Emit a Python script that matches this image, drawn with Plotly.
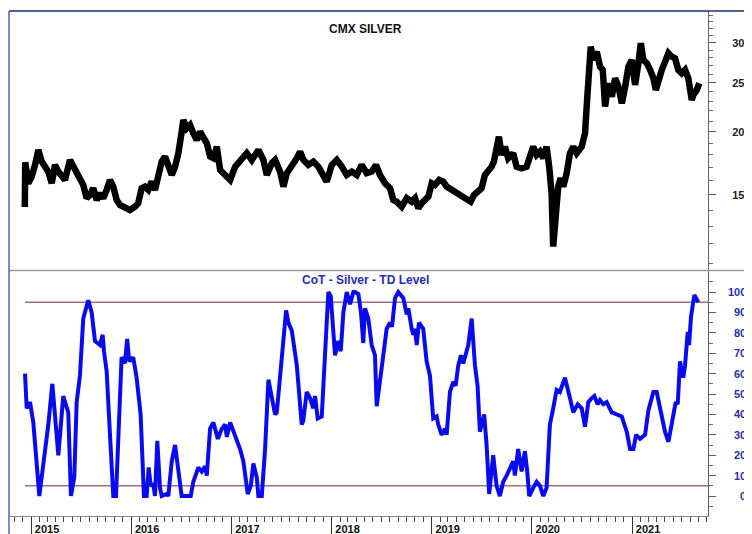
import math
from datetime import datetime
import plotly.graph_objects as go

# ---------------- data ----------------
# decimal-year positions and CMX silver price (USD/oz)
price_t = [2014.938, 2014.942, 2014.973, 2015.007, 2015.040, 2015.073, 2015.107, 2015.140, 2015.173,
           2015.207, 2015.240, 2015.273, 2015.306, 2015.339, 2015.389, 2015.422, 2015.456, 2015.489,
           2015.522, 2015.556, 2015.589, 2015.622, 2015.656, 2015.689, 2015.722, 2015.756, 2015.789,
           2015.822, 2015.856, 2015.888, 2015.938, 2015.988, 2016.038, 2016.071, 2016.105, 2016.138,
           2016.171, 2016.205, 2016.238, 2016.271, 2016.305, 2016.338, 2016.371, 2016.405, 2016.438,
           2016.471, 2016.504, 2016.520, 2016.554, 2016.587, 2016.620, 2016.654, 2016.687, 2016.720,
           2016.754, 2016.787, 2016.820, 2016.854, 2016.887, 2016.937, 2016.987, 2017.037, 2017.086,
           2017.153, 2017.203, 2017.236, 2017.269, 2017.319, 2017.353, 2017.403, 2017.436, 2017.486,
           2017.519, 2017.553, 2017.603, 2017.653, 2017.686, 2017.719, 2017.768, 2017.818, 2017.868,
           2017.918, 2017.952, 2018.002, 2018.052, 2018.102, 2018.152, 2018.202, 2018.252, 2018.301,
           2018.351, 2018.401, 2018.444, 2018.484, 2018.534, 2018.584, 2018.617, 2018.651, 2018.701,
           2018.751, 2018.801, 2018.834, 2018.867, 2018.901, 2018.934, 2018.967, 2019.001, 2019.033,
           2019.076, 2019.116, 2019.150, 2019.200, 2019.250, 2019.300, 2019.350, 2019.390, 2019.423,
           2019.465, 2019.499, 2019.532, 2019.565, 2019.599, 2019.622, 2019.649, 2019.672, 2019.699,
           2019.732, 2019.765, 2019.815, 2019.849, 2019.899, 2019.949, 2019.982, 2020.015, 2020.049,
           2020.082, 2020.115, 2020.148, 2020.174, 2020.198, 2020.214, 2020.241, 2020.264, 2020.288,
           2020.314, 2020.348, 2020.381, 2020.414, 2020.448, 2020.498, 2020.531, 2020.554, 2020.574,
           2020.588, 2020.614, 2020.648, 2020.681, 2020.708, 2020.731, 2020.764, 2020.798, 2020.831,
           2020.864, 2020.898, 2020.931, 2020.963, 2020.997, 2021.030, 2021.063, 2021.087, 2021.113,
           2021.147, 2021.180, 2021.213, 2021.237, 2021.263, 2021.297, 2021.330, 2021.363, 2021.396,
           2021.429, 2021.462, 2021.496, 2021.529, 2021.562, 2021.596, 2021.612, 2021.646, 2021.672]
price_v = [14.2, 17.4, 15.82, 16.30, 17.20, 18.41, 17.46, 16.94, 16.68,
           15.82, 17.20, 16.68, 16.43, 16.06, 17.59, 17.06, 16.43, 16.06,
           15.70, 14.78, 15.00, 15.47, 14.66, 15.12, 14.78, 15.35, 16.06,
           15.58, 14.66, 14.33, 14.12, 14.01, 14.22, 14.45, 15.47, 15.58,
           15.35, 15.94, 15.35, 16.30, 17.46, 17.86, 17.06, 16.43, 17.06,
           18.14, 20.01, 21.10, 20.32, 20.63, 19.87, 19.27, 20.01, 19.56,
           18.98, 17.86, 17.73, 18.69, 16.81, 16.43, 16.06, 17.06, 17.59,
           18.14, 17.59, 18.14, 18.41, 17.59, 16.43, 17.33, 17.59, 16.68,
           15.58, 16.56, 17.06, 17.73, 18.27, 17.59, 17.20, 17.46, 17.06,
           16.43, 15.94, 17.20, 17.59, 17.06, 16.43, 16.68, 16.43, 17.20,
           16.56, 16.68, 17.20, 16.43, 15.82, 15.47, 14.66, 14.55, 14.22,
           14.78, 14.55, 14.78, 14.12, 14.45, 14.66, 14.89, 15.82, 15.70,
           16.06, 15.94, 15.58, 15.35, 15.23, 15.00, 14.78, 14.55, 15.00,
           15.35, 15.47, 16.43, 16.68, 17.06, 17.46, 18.55, 19.56, 18.00,
           18.69, 17.73, 18.14, 17.06, 16.94, 17.06, 18.00, 18.69, 18.00,
           18.27, 17.73, 18.69, 17.06, 15.12, 11.86, 14.45, 15.58, 16.19,
           15.58, 16.56, 18.14, 18.69, 18.14, 18.69, 19.87, 23.47, 25.70,
           29.46, 27.73, 28.80, 26.89, 26.50, 22.42, 24.94, 23.47, 25.51,
           24.56, 22.77, 24.56, 26.89, 27.73, 24.75, 27.31, 29.92, 27.73,
           27.31, 26.50, 25.51, 24.19, 25.32, 26.50, 27.52, 28.59, 28.15,
           27.95, 26.50, 26.10, 26.50, 25.51, 23.11, 23.65, 24.19, 24.94]

# decimal-year positions and CoT "TD Level" (0-100)
cot_t = [2014.940, 2014.957, 2014.990, 2015.023, 2015.083, 2015.123, 2015.173, 2015.213, 2015.273,
         2015.322, 2015.372, 2015.399, 2015.432, 2015.456, 2015.489, 2015.522, 2015.572, 2015.606,
         2015.639, 2015.689, 2015.716, 2015.729, 2015.756, 2015.789, 2015.822, 2015.849, 2015.881,
         2015.905, 2015.938, 2015.961, 2015.981, 2016.021, 2016.055, 2016.095, 2016.128, 2016.155,
         2016.175, 2016.195, 2016.221, 2016.238, 2016.261, 2016.288, 2016.305, 2016.355, 2016.371,
         2016.405, 2016.438, 2016.471, 2016.504, 2016.594, 2016.620, 2016.670, 2016.704, 2016.737,
         2016.754, 2016.787, 2016.820, 2016.864, 2016.904, 2016.937, 2016.954, 2016.987, 2017.037,
         2017.086, 2017.119, 2017.163, 2017.193, 2017.219, 2017.253, 2017.269, 2017.303, 2017.336,
         2017.369, 2017.403, 2017.436, 2017.453, 2017.486, 2017.519, 2017.546, 2017.569, 2017.603,
         2017.653, 2017.702, 2017.718, 2017.752, 2017.785, 2017.818, 2017.835, 2017.862, 2017.902,
         2017.935, 2017.968, 2017.992, 2018.018, 2018.035, 2018.068, 2018.092, 2018.118, 2018.152,
         2018.185, 2018.218, 2018.235, 2018.268, 2018.294, 2018.317, 2018.334, 2018.367, 2018.401,
         2018.434, 2018.451, 2018.484, 2018.517, 2018.551, 2018.584, 2018.604, 2018.634, 2018.667,
         2018.717, 2018.751, 2018.767, 2018.801, 2018.817, 2018.834, 2018.851, 2018.873, 2018.916,
         2018.950, 2018.983, 2019.016, 2019.050, 2019.066, 2019.100, 2019.133, 2019.150, 2019.183,
         2019.216, 2019.240, 2019.266, 2019.293, 2019.316, 2019.366, 2019.400, 2019.433, 2019.459,
         2019.482, 2019.525, 2019.549, 2019.575, 2019.615, 2019.649, 2019.682, 2019.715, 2019.749,
         2019.782, 2019.815, 2019.832, 2019.865, 2019.899, 2019.932, 2019.955, 2019.975, 2020.015,
         2020.049, 2020.082, 2020.115, 2020.148, 2020.181, 2020.214, 2020.248, 2020.281, 2020.331,
         2020.381, 2020.414, 2020.458, 2020.498, 2020.531, 2020.564, 2020.598, 2020.624, 2020.657,
         2020.680, 2020.713, 2020.747, 2020.797, 2020.863, 2020.897, 2020.947, 2020.980, 2021.013,
         2021.040, 2021.080, 2021.130, 2021.163, 2021.213, 2021.246, 2021.296, 2021.329, 2021.363,
         2021.396, 2021.436, 2021.456, 2021.479, 2021.512, 2021.529, 2021.556, 2021.569, 2021.589,
         2021.622, 2021.662]
cot_v = [60, 43, 46, 36, 0, 14, 35, 55, 20,
         49, 41, 0, 9, 46, 59, 87, 96, 90,
         76, 74, 79, 71, 61, 30, 0, 0, 41,
         68, 65, 77, 66, 68, 58, 40, 0, 0,
         14, 5, 6, 0, 27, 4, 0, 1, 0,
         17, 25, 12, 0, 0, 7, 14, 12, 14.5,
         10, 33, 36, 28, 33, 35, 29, 36, 30,
         23, 17, 1, 5, 16, 9, 0, 0, 23,
         57, 49, 40, 41, 59, 79, 91, 85, 81,
         64, 35, 37, 51, 48, 43, 49, 38, 39,
         71, 100, 98, 82, 69, 76, 71, 90, 100,
         94, 100, 100, 99, 90, 75, 92, 87, 74,
         69, 44, 58, 69, 82, 85, 83, 97, 100,
         97, 89, 92, 82, 79, 82, 74, 85, 82,
         66, 59, 38, 39, 35, 30, 33, 30, 51,
         56, 54, 64, 69, 65, 74, 87, 64, 54,
         31.5, 40, 25, 1, 20, 5, 0, 7, 10,
         14, 17, 10, 23, 12, 22, 12, 0, 4,
         7, 5, 0, 4, 35, 43, 52, 51, 58,
         48, 41, 45, 43, 34, 46, 48, 49, 45,
         47, 45, 46, 41, 40, 39, 31.5, 23, 23,
         30, 28, 30, 42, 51, 51, 38, 31.5, 26.6,
         35, 46, 45, 66, 58, 64, 80.5, 74, 88,
         98.5, 95]

year_ticks = [2015, 2016, 2017, 2018, 2019, 2020, 2021]
price_ticks = [15, 20, 25, 30]
cot_ticks = [0, 10, 20, 30, 40, 50, 60, 70, 80, 90, 100]
upper_level = 95
lower_level = 5

# ---------------- helpers ----------------
def to_date(d):
    y = int(math.floor(d))
    a = datetime(y, 1, 1)
    b = datetime(y + 1, 1, 1)
    return a + (b - a) * (d - y)

price_x = [to_date(d) for d in price_t]
cot_x = [to_date(d) for d in cot_t]
x_start = to_date(2014.780)
x_end = to_date(2021.7585)

FONT = "Liberation Sans, Arial, sans-serif"
BLUE_TXT = "#2b2bb5"

# The page places the figure 8px from the top-left corner (default body margin),
# so the figure is sized 744x526 to fill the 752x534 window exactly.
W, HT = 744, 526
ML, MR, MT, MB = 1, 44, 3, 18
PW = W - ML - MR          # 699
PH = HT - MT - MB         # 505

def py(win_y):
    """paper y for a window pixel row"""
    return (HT - MB - (win_y - 8)) / PH

fig = go.Figure()

# level lines
for lvl in (upper_level, lower_level):
    fig.add_trace(go.Scatter(x=[cot_x[0], x_end], y=[lvl, lvl], mode="lines",
                             line=dict(color="#a27272", width=1.5),
                             xaxis="x", yaxis="y2", hoverinfo="skip", showlegend=False))

fig.add_trace(go.Scatter(x=price_x, y=price_v, mode="lines",
                         line=dict(color="#000000", width=6.5),
                         xaxis="x", yaxis="y", showlegend=False, name="CMX SILVER"))
fig.add_trace(go.Scatter(x=cot_x, y=cot_v, mode="lines",
                         line=dict(color="#0a0aee", width=4),
                         xaxis="x", yaxis="y2", showlegend=False, name="CoT - Silver - TD Level"))

minor_price = [v for v in range(11, 35) if v not in price_ticks]
minor_cot = [-5, 5, 15, 25, 35, 45, 55, 65, 75, 85, 95, 105]

fig.update_layout(
    width=W, height=HT,
    margin=dict(l=ML, r=MR, t=MT, b=MB, autoexpand=False),
    paper_bgcolor="white", plot_bgcolor="white",
    font=dict(family=FONT, size=11, color="#111"),
    xaxis=dict(
        type="date", range=[x_start, x_end], anchor="y2",
        showgrid=False, zeroline=False,
        showline=True, linecolor="#8a8a8a", linewidth=1,
        tickmode="array", tickvals=[datetime(y, 1, 1) for y in year_ticks],
        ticktext=[str(y) for y in year_ticks],
        ticks="outside", ticklen=18, tickcolor="#333", tickwidth=1,
        ticklabelstandoff=-15, ticklabelshift=16,
        tickfont=dict(family=FONT, size=11, color="#111", weight="bold"),
        minor=dict(tickmode="linear", tick0="2015-01-01", dtick="M1",
                   ticks="outside", ticklen=5, tickcolor="#444", showgrid=False),
    ),
    yaxis=dict(
        type="log", domain=[py(270), 1.0],
        range=[math.log10(10.66), math.log10(34.65)],
        side="right", anchor="x",
        showgrid=False, zeroline=False,
        showline=True, linecolor="#666", linewidth=1,
        tickmode="array", tickvals=price_ticks, ticktext=[str(v) for v in price_ticks],
        ticks="outside", ticklen=7, tickcolor="#555",
        ticklabelstandoff=14,
        tickfont=dict(family=FONT, size=11, color="#222", weight="bold"),
        minor=dict(tickmode="array", tickvals=minor_price, ticks="outside",
                   ticklen=4, tickcolor="#666", showgrid=False),
    ),
    yaxis2=dict(
        domain=[0.0, py(271)], range=[-9.8, 110.3],
        side="right", anchor="x",
        showgrid=False, zeroline=False,
        showline=True, linecolor="#555a80", linewidth=1,
        tickmode="array", tickvals=cot_ticks, showticklabels=False,
        ticks="outside", ticklen=7, tickcolor="#555a80",
        minor=dict(tickmode="array", tickvals=minor_cot, ticks="outside",
                   ticklen=4, tickcolor="#666a90", showgrid=False),
    ),
)

# right-aligned tick labels for the CoT axis (window x = 748)
for v in cot_ticks:
    fig.add_annotation(x=(748 - 8 - ML) / PW, xref="paper", y=v, yref="y2", text=str(v),
                       showarrow=False, xanchor="right", yanchor="middle",
                       font=dict(family=FONT, size=11, color=BLUE_TXT, weight="bold"))

# panel titles (centre at window x = 365.5)
cx = (365.5 - 8 - ML) / PW
fig.add_annotation(x=cx, xref="paper", y=py(29), yref="paper", yanchor="middle",
                   text="CMX SILVER", showarrow=False,
                   font=dict(family=FONT, size=12, color="#111", weight="bold"))
fig.add_annotation(x=cx, xref="paper", y=py(280), yref="paper", yanchor="middle",
                   text="CoT - Silver - TD Level", showarrow=False,
                   font=dict(family=FONT, size=12, color=BLUE_TXT, weight="bold"))

# frame lines
x_right = (752 - 8 - ML) / PW
fig.add_shape(type="line", xref="paper", yref="paper", x0=0, x1=x_right, y0=1.0, y1=1.0,
              line=dict(color="#1f2f6a", width=1.5))
fig.add_shape(type="line", xref="paper", yref="paper", x0=0, x1=x_right,
              y0=py(270.5), y1=py(270.5), line=dict(color="#9a9a9a", width=1.5))
fig.add_shape(type="line", xref="paper", yref="paper", x0=0, x1=0,
              y0=-MB / PH, y1=1.0, line=dict(color="#4a66b8", width=1.5))

fig.write_html("out.html")
